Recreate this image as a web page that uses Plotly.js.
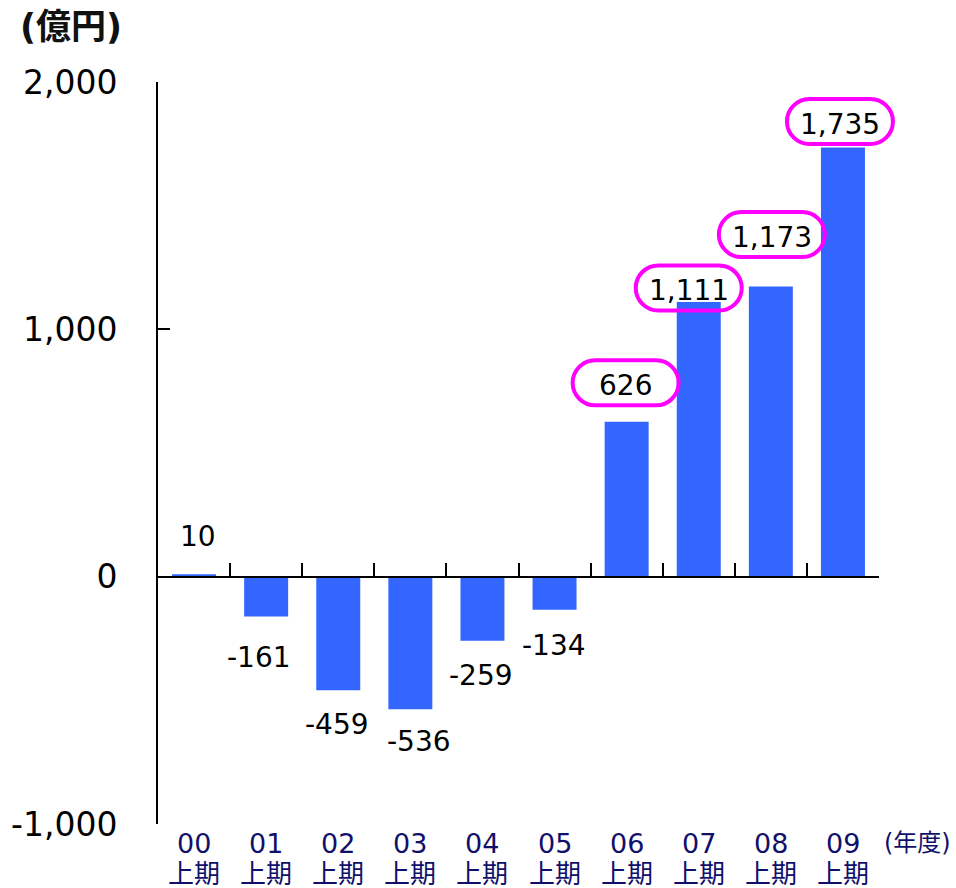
<!DOCTYPE html>
<html>
<head>
<meta charset="utf-8">
<script src="https://cdn.plot.ly/plotly-3.0.1.min.js"></script>
<style>
  body { margin: 0; background: #fff; }
  #graph { width: 956px; height: 888px; }
</style>
</head>
<body>
<div id="graph"></div>
<script>
// data (億円, 上期)
var years = ['00', '01', '02', '03', '04', '05', '06', '07', '08', '09']
var half = '上期'
var values = [10, -161, -459, -536, -259, -134, 626, 1111, 1173, 1735]
var yTickVals = [-1000, 0, 1000, 2000]
var yTickText = ['-1,000', '0', '1,000', '2,000']
var circled = [false, false, false, false, false, false, true, true, true, true]

// label offsets in px from the bar end (x, y up)
var labelShift = [[4, 38], [-7, -41], [-1, -34], [9, -32], [-1, -35],
                  [-1, -36], [-1, 36], [-10, 11], [1, 49], [-3, 23]]

var FONT = '"DejaVu Sans", "Noto Sans CJK JP", sans-serif'
var NAVY = '#10106b'
var n = years.length

var trace_bar = {
  type: 'bar',
  x: years,
  y: values,
  width: 0.61,
  marker: { color: '#3366ff' },
  hoverinfo: 'none'
}

// rounded "pill" outline in pixel units around (cx, cy)
function pill(cx, cy, w, h) {
  var r = h / 2, k = 0.5523 * r
  var l = cx - w / 2 + r, rt = cx + w / 2 - r
  var top = cy + r, bot = cy - r
  return 'M' + l + ',' + top + ' L' + rt + ',' + top +
    ' C' + (rt + k) + ',' + top + ' ' + (rt + r) + ',' + (cy + k) + ' ' + (rt + r) + ',' + cy +
    ' C' + (rt + r) + ',' + (cy - k) + ' ' + (rt + k) + ',' + bot + ' ' + rt + ',' + bot +
    ' L' + l + ',' + bot +
    ' C' + (l - k) + ',' + bot + ' ' + (l - r) + ',' + (cy - k) + ' ' + (l - r) + ',' + cy +
    ' C' + (l - r) + ',' + (cy + k) + ' ' + (l - k) + ',' + top + ' ' + l + ',' + top + ' Z'
}

var annotations = []
var shapes = []
values.forEach(function (v, i) {
  var s = labelShift[i]
  annotations.push({
    x: i, y: v, xref: 'x', yref: 'y',
    text: v.toLocaleString('en-US'),
    showarrow: false,
    xanchor: 'center', yanchor: 'middle',
    xshift: s[0], yshift: s[1],
    font: { family: FONT, size: 28, color: '#000' }
  })
  if (circled[i]) {
    // paper x so the last pill is not clipped at the plot edge
    shapes.push({
      type: 'path', xref: 'paper', yref: 'y',
      xsizemode: 'pixel', ysizemode: 'pixel',
      xanchor: (i + 0.5) / n, yanchor: v,
      path: pill(s[0], s[1] + 3, 106, 45),
      line: { color: '#ff00ff', width: 4 },
      fillcolor: 'rgba(0,0,0,0)'
    })
  }
})

// category labels under the plot, two rows
years.forEach(function (y, i) {
  annotations.push({
    x: i, y: 0, xref: 'x', yref: 'paper', text: y, showarrow: false,
    xanchor: 'center', yanchor: 'middle', yshift: -19,
    font: { family: FONT, size: 27, color: NAVY }
  })
  annotations.push({
    x: i, y: 0, xref: 'x', yref: 'paper', text: half, showarrow: false,
    xanchor: 'center', yanchor: 'middle', yshift: -50,
    font: { family: FONT, size: 26, color: NAVY }
  })
})

annotations.push({
  text: '(億円)', xref: 'paper', yref: 'paper', x: -0.194, y: 1.0,
  xanchor: 'left', yanchor: 'middle', yshift: 55, showarrow: false,
  font: { family: FONT, size: 35, color: '#111', weight: 'bold' }
})
annotations.push({
  text: '(年度)', xref: 'paper', yref: 'paper', x: 1.0, y: 0,
  xanchor: 'left', yanchor: 'middle', xshift: 3, yshift: -19, showarrow: false,
  font: { family: FONT, size: 24, color: NAVY }
})

var yMin = yTickVals[0], yMax = yTickVals[yTickVals.length - 1]

var layout = {
  width: 956,
  height: 888,
  margin: { l: 158, r: 77, t: 82, b: 64, pad: 0 },
  showlegend: false,
  paper_bgcolor: '#fff',
  plot_bgcolor: '#fff',
  font: { family: FONT, color: '#000' },
  xaxis: {
    type: 'category',
    range: [-0.5, n - 0.5],
    anchor: 'free',
    position: (0 - yMin) / (yMax - yMin),
    showline: true,
    linecolor: '#000',
    linewidth: 2,
    showgrid: false,
    zeroline: false,
    ticks: 'inside',
    tickson: 'boundaries',
    ticklen: 13,
    tickwidth: 2,
    tickcolor: '#000',
    showticklabels: false
  },
  yaxis: {
    range: [yMin, yMax],
    showline: true,
    linecolor: '#000',
    linewidth: 2,
    showgrid: false,
    zeroline: false,
    ticks: 'inside',
    ticklen: 12,
    tickwidth: 2,
    tickcolor: '#000',
    tickmode: 'array',
    tickvals: yTickVals,
    ticktext: yTickText,
    tickfont: { family: FONT, size: 33, color: '#000' },
    ticklabelstandoff: 32
  },
  annotations: annotations,
  shapes: shapes
}

Plotly.newPlot('graph', [trace_bar], layout, { displayModeBar: false, staticPlot: true })
</script>
</body>
</html>
